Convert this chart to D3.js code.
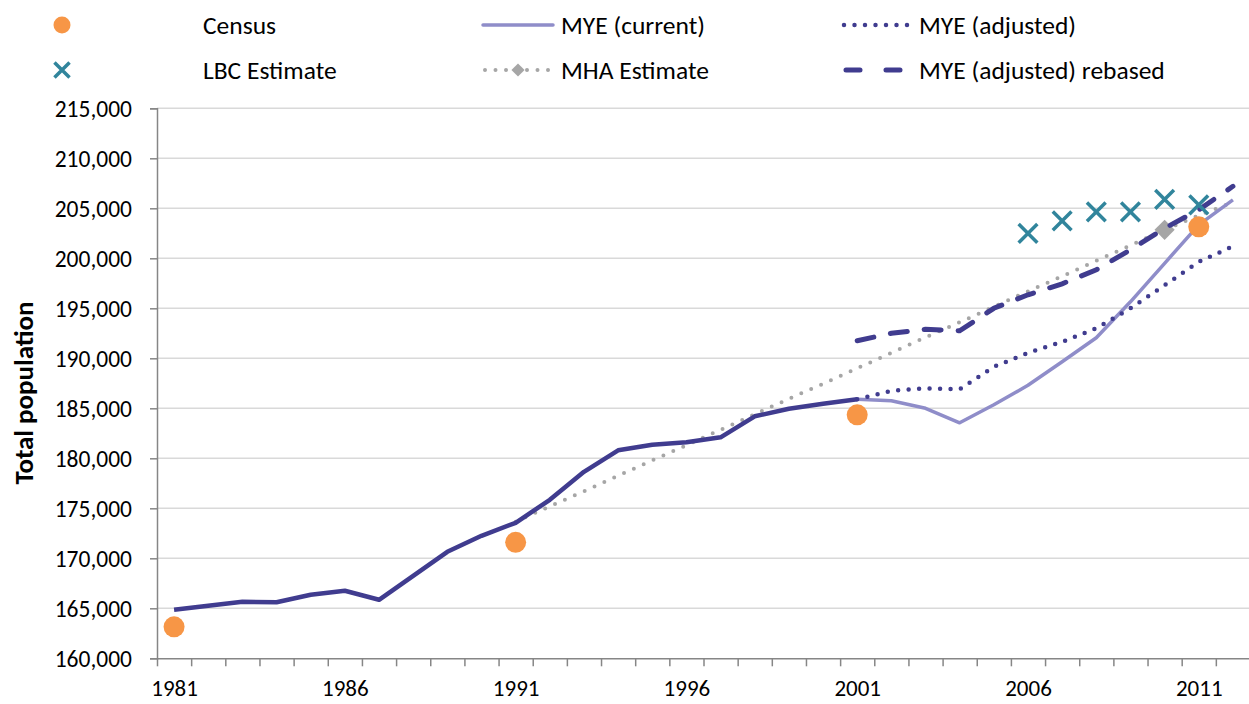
<!DOCTYPE html>
<html>
<head>
<meta charset="utf-8">
<script src="https://cdn.jsdelivr.net/npm/d3@7"></script>
<style>
  body { margin: 0; background: #fff; }
  svg text { font-family: Carlito, Lato, "Open Sans", sans-serif; fill: #000; }
</style>
</head>
<body>
<svg id="chart"></svg>
<script>
// categories
const years = d3.range(1981, 2013);
const labelYears = [1981, 1986, 1991, 1996, 2001, 2006, 2011];
const yTicks = [160000, 165000, 170000, 175000, 180000, 185000, 190000, 195000, 200000, 205000, 210000, 215000];

// series
const myeHistoric = [
  [1981, 164850], [1982, 165250], [1983, 165650], [1984, 165600], [1985, 166350],
  [1986, 166750], [1987, 165850], [1988, 168250], [1989, 170650], [1990, 172250],
  [1991, 173550], [1992, 175850], [1993, 178650], [1994, 180800], [1995, 181350],
  [1996, 181600], [1997, 182100], [1998, 184200], [1999, 184950], [2000, 185450],
  [2001, 185900]
];
const myeCurrent = [
  [2001, 185900], [2002, 185750], [2003, 185000], [2004, 183550], [2005, 185350],
  [2006, 187300], [2007, 189650], [2008, 192050], [2009, 195650], [2010, 199500],
  [2011, 203350], [2012, 205850]
];
const myeAdjusted = [
  [2001, 185900], [2002, 186750], [2003, 187000], [2004, 186900], [2005, 189150],
  [2006, 190550], [2007, 191650], [2008, 193000], [2009, 195000], [2010, 197300],
  [2011, 199650], [2012, 201200]
];
const myeRebased = [
  [2001, 191750], [2002, 192500], [2003, 192900], [2004, 192750], [2005, 195000],
  [2006, 196350], [2007, 197450], [2008, 198850], [2009, 200850], [2010, 203000],
  [2011, 204850], [2012, 207200]
];
const mhaEstimate = [
  [1991, 173650], [1992, 175200], [1993, 176700], [1994, 178250], [1995, 179800],
  [1996, 181300], [1997, 182850], [1998, 184400], [1999, 185950], [2000, 187450],
  [2001, 189000], [2002, 190550], [2003, 192100], [2004, 193600], [2005, 195150],
  [2006, 196700], [2007, 198200], [2008, 199750], [2009, 201300], [2010, 202850],
  [2011, 204300], [2012, 205600]
];
const mhaMarkerYears = [2010];
const census = [[1981, 163150], [1991, 171600], [2001, 184350], [2011, 203150]];
const lbcEstimate = [[2006, 202500], [2007, 203750], [2008, 204650], [2009, 204650], [2010, 205900], [2011, 205350]];

const colors = {
  dark: '#403c8f', light: '#8f8dc9', orange: '#f79646', teal: '#31859c',
  gray: '#a6a6a6', grid: '#d9d9d9', axis: '#868686'
};

const width = 1249, height = 704;
const margin = {top: 108.3, right: 0, bottom: 45.7, left: 157};

const x = d3.scaleLinear()
  .domain([1980.5, 2012.5])
  .range([157, 1250]);

const y = d3.scaleLinear()
  .domain([160000, 215000])
  .range([height - margin.bottom, margin.top]);

const svg = d3.select('#chart')
  .attr('width', width)
  .attr('height', height);

// gridlines
svg.append('g')
  .selectAll('line')
  .data(yTicks.slice(1))
  .join('line')
  .attr('x1', x(1980.5)).attr('x2', width)
  .attr('y1', d => y(d)).attr('y2', d => y(d))
  .attr('stroke', colors.grid)
  .attr('stroke-width', 1.5);

// y axis
const yAxis = g => g
  .attr('transform', `translate(${x(1980.5)},0)`)
  .call(d3.axisLeft(y).tickValues(yTicks).tickSize(7).tickPadding(18).tickFormat(d3.format(',')))
  .call(g => g.selectAll('.domain, .tick line').attr('stroke', colors.axis).attr('stroke-width', 1.5))
  .call(g => g.selectAll('.tick text').attr('font-size', 23.5).attr('dy', '0.35em'));

svg.append('g').call(yAxis);

// x axis: tick marks between categories, labels every 5 years
const xTickMarks = years.map(d => d - 0.5).concat([2012.5]);
svg.append('g')
  .attr('transform', `translate(0,${y(160000)})`)
  .call(d3.axisBottom(x).tickValues(xTickMarks).tickSize(8).tickFormat('').tickSizeOuter(0))
  .call(g => g.selectAll('.domain, .tick line').attr('stroke', colors.axis).attr('stroke-width', 1.5));

svg.append('g')
  .attr('transform', `translate(0,${y(160000)})`)
  .call(d3.axisBottom(x).tickValues(labelYears).tickSize(0).tickPadding(21).tickFormat(d3.format('d')))
  .call(g => g.select('.domain').remove())
  .call(g => g.selectAll('.tick text').attr('font-size', 23));

// y title
svg.append('text')
  .attr('transform', `translate(33,393) rotate(-90)`)
  .attr('text-anchor', 'middle')
  .attr('font-size', 27)
  .attr('font-weight', 'bold')
  .text('Total population');

const line = d3.line()
  .x(d => x(d[0]))
  .y(d => y(d[1]));

const plot = svg.append('g');

plot.append('path')
  .datum(mhaEstimate)
  .attr('fill', 'none')
  .attr('stroke', colors.gray)
  .attr('stroke-width', 4)
  .attr('stroke-linecap', 'round')
  .attr('stroke-dasharray', '0 10.8')
  .attr('d', line);

plot.selectAll('.mha-marker')
  .data(mhaEstimate.filter(d => mhaMarkerYears.includes(d[0])))
  .join('path')
  .attr('class', 'mha-marker')
  .attr('transform', d => `translate(${x(d[0])},${y(d[1])})`)
  .attr('d', d3.symbol(d3.symbolDiamond2, 260))
  .attr('fill', colors.gray);

plot.append('path')
  .datum(myeCurrent)
  .attr('fill', 'none')
  .attr('stroke', colors.light)
  .attr('stroke-width', 3.5)
  .attr('stroke-linejoin', 'round')
  .attr('d', line);

plot.append('path')
  .datum(myeAdjusted)
  .attr('fill', 'none')
  .attr('stroke', colors.dark)
  .attr('stroke-width', 4.5)
  .attr('stroke-linecap', 'round')
  .attr('stroke-dasharray', '0 10.5')
  .attr('d', line);

plot.append('path')
  .datum(myeHistoric)
  .attr('fill', 'none')
  .attr('stroke', colors.dark)
  .attr('stroke-width', 4.5)
  .attr('stroke-linejoin', 'round')
  .attr('d', line);

plot.append('path')
  .datum(myeRebased)
  .attr('fill', 'none')
  .attr('stroke', colors.dark)
  .attr('stroke-width', 5)
  .attr('stroke-linecap', 'round')
  .attr('stroke-dasharray', '17 17')
  .attr('d', line);

plot.selectAll('.census')
  .data(census)
  .join('circle')
  .attr('class', 'census')
  .attr('cx', d => x(d[0]))
  .attr('cy', d => y(d[1]))
  .attr('r', 10.5)
  .attr('fill', colors.orange);

const cross = d3.symbol(d3.symbolX, 230);
plot.selectAll('.lbc')
  .data(lbcEstimate)
  .join('path')
  .attr('class', 'lbc')
  .attr('transform', d => `translate(${x(d[0])},${y(d[1])})`)
  .attr('d', cross)
  .attr('fill', 'none')
  .attr('stroke', colors.teal)
  .attr('stroke-width', 3.5);

// legend
const legend = svg.append('g').attr('font-size', 25.5);
const legendItems = [
  {name: 'Census', lx: 62, ly: 25, tx: 203, kind: 'circle'},
  {name: 'LBC Estimate', lx: 62, ly: 70, tx: 203, kind: 'cross'},
  {name: 'MYE (current)', lx: 483, ly: 25, tx: 561, kind: 'solid'},
  {name: 'MHA Estimate', lx: 483, ly: 70, tx: 561, kind: 'mha'},
  {name: 'MYE (adjusted)', lx: 842, ly: 25, tx: 919, kind: 'dotted'},
  {name: 'MYE (adjusted) rebased', lx: 842, ly: 70, tx: 919, kind: 'dashed'}
];

legendItems.forEach(it => {
  const g = legend.append('g');
  if (it.kind === 'circle') {
    g.append('circle').attr('cx', it.lx).attr('cy', it.ly).attr('r', 8.5).attr('fill', colors.orange);
  } else if (it.kind === 'cross') {
    g.append('path').attr('transform', `translate(${it.lx},${it.ly})`).attr('d', d3.symbol(d3.symbolX, 150))
      .attr('fill', 'none').attr('stroke', colors.teal).attr('stroke-width', 3.5);
  } else {
    const seg = g.append('line')
      .attr('x1', it.lx).attr('x2', it.lx + 70)
      .attr('y1', it.ly).attr('y2', it.ly)
      .attr('fill', 'none');
    if (it.kind === 'solid') seg.attr('stroke', colors.light).attr('stroke-width', 3.5).attr('stroke-linecap', 'round');
    if (it.kind === 'mha') {
      seg.attr('x1', it.lx + 2).attr('stroke', colors.gray).attr('stroke-width', 4).attr('stroke-linecap', 'round').attr('stroke-dasharray', '0 10.5');
      g.append('path').attr('transform', `translate(${it.lx + 35},${it.ly})`).attr('d', d3.symbol(d3.symbolDiamond2, 110)).attr('fill', colors.gray);
    }
    if (it.kind === 'dotted') seg.attr('x1', it.lx + 2).attr('stroke', colors.dark).attr('stroke-width', 4.5).attr('stroke-linecap', 'round').attr('stroke-dasharray', '0 10.5');
    if (it.kind === 'dashed') seg.attr('x1', it.lx + 4).attr('x2', it.lx + 62).attr('stroke', colors.dark).attr('stroke-width', 5).attr('stroke-linecap', 'round').attr('stroke-dasharray', '14 26');
  }
  g.append('text').attr('x', it.tx).attr('y', it.ly).attr('dy', '0.35em').text(it.name);
});
</script>
</body>
</html>
